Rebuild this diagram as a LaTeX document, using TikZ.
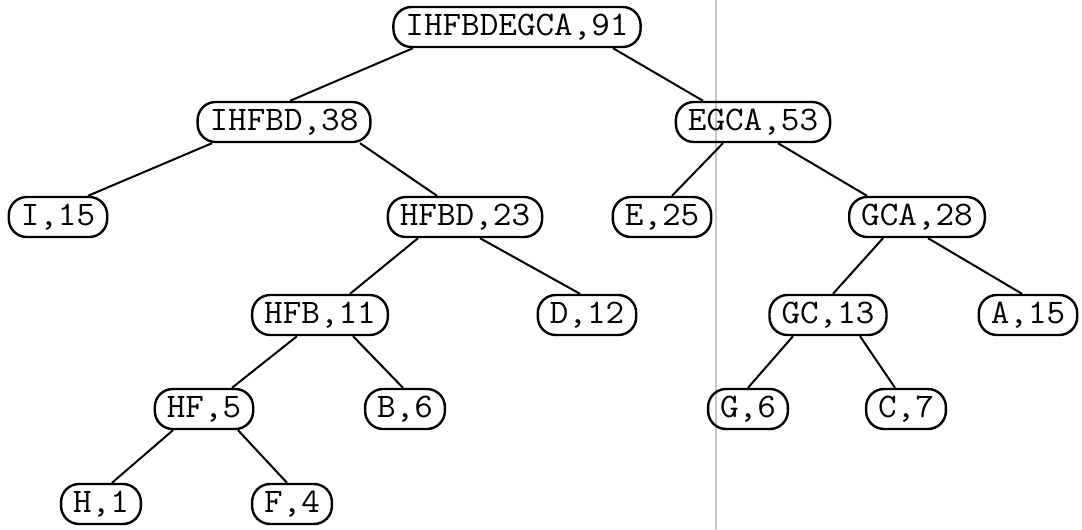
\documentclass[tikz,border=0pt]{standalone}
\usepackage{fontspec}
\newfontfamily\hfont[FakeStretch=1.05]{Latin Modern Mono}
\usetikzlibrary{calc}
\tikzset{
  hnode/.style={draw, line width=1.2pt, rounded corners=9pt, minimum height=20pt,
    inner xsep=6pt, inner ysep=0pt, font=\hfont\fontsize{17.2pt}{19pt}\selectfont},
  hedge/.style={line width=1pt}
}
\newcommand{\hlink}[4]{\draw[hedge] ($(#1.south)+(#2,0)$) -- ($(#3.north)+(#4,0)$);}
\begin{document}
\begin{tikzpicture}[x=0.5pt,y=-0.5pt]
\useasboundingbox (0,0) rectangle (1082,530);
\draw[gray!45, line width=0.6pt] (716,0) -- (716,530);
% row 0
\node[hnode] (root) at (517,27) {IHFBDEGCA,91};
% row 1
\node[hnode] (ihfbd) at (284,122) {IHFBD,38};
\node[hnode] (egca) at (753,122) {EGCA,53};
% row 2
\node[hnode] (i) at (58,217) {I,15};
\node[hnode] (hfbd) at (465,217) {HFBD,23};
\node[hnode] (e) at (662,217) {E,25};
\node[hnode] (gca) at (917,217) {GCA,28};
% row 3
\node[hnode] (hfb) at (320,315) {HFB,11};
\node[hnode] (d) at (587,315) {D,12};
\node[hnode] (gc) at (828,315) {GC,13};
\node[hnode] (a) at (1028,315) {A,15};
% row 4
\node[hnode] (hf) at (204,409) {HF,5};
\node[hnode] (b) at (405,409) {B,6};
\node[hnode] (g) at (748,409) {G,6};
\node[hnode] (c) at (906,409) {C,7};
% row 5
\node[hnode] (h) at (101,504) {H,1};
\node[hnode] (f) at (292,504) {F,4};
% edges
\hlink{root}{-104}{ihfbd}{6}
\hlink{root}{96}{egca}{-50}
\hlink{ihfbd}{-72}{i}{30}
\hlink{ihfbd}{76}{hfbd}{-28}
\hlink{egca}{-30}{e}{10}
\hlink{egca}{25}{gca}{-50}
\hlink{gca}{-34}{gc}{5}
\hlink{gca}{11}{a}{-6}
\hlink{hfbd}{-47}{hfb}{30}
\hlink{hfbd}{15}{d}{-7}
\hlink{hfb}{-23}{hf}{28}
\hlink{hfb}{33}{b}{-2}
\hlink{hf}{-31}{h}{11}
\hlink{hf}{34}{f}{-5}
\hlink{gc}{-35}{g}{0}
\hlink{gc}{32}{c}{-11}
\end{tikzpicture}
\end{document}
